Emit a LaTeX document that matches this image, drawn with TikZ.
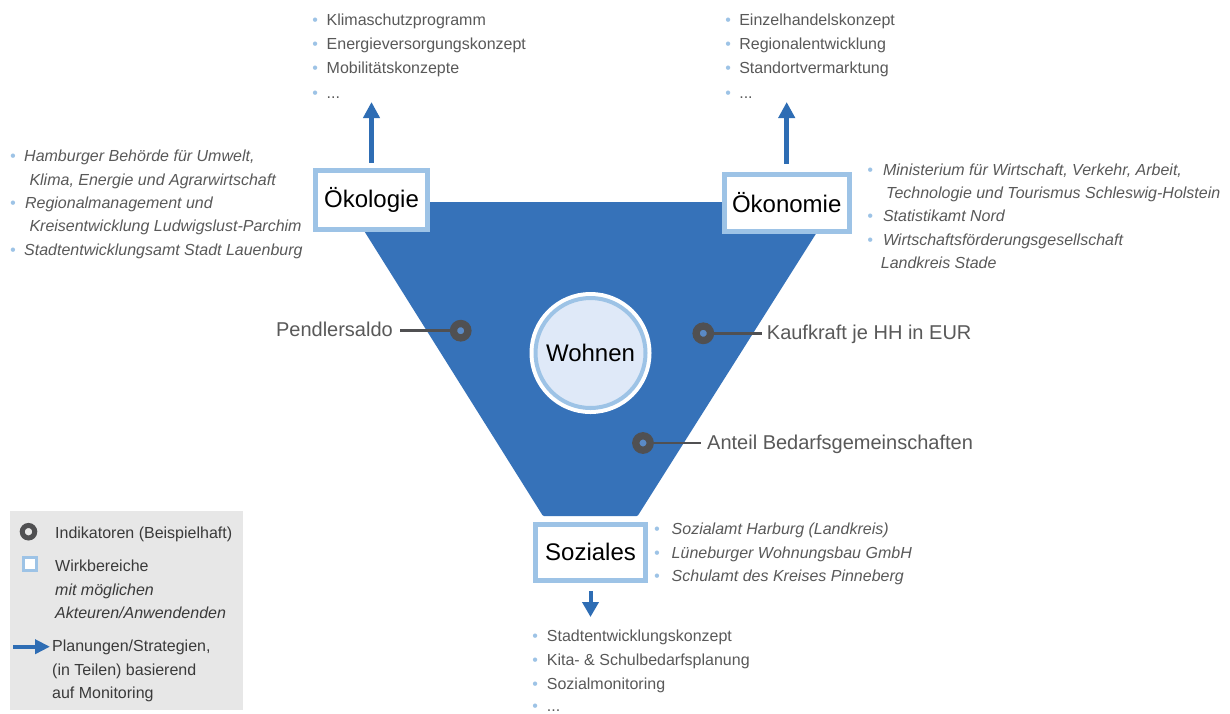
\documentclass[tikz,border=0pt]{standalone}
\usepackage{fontspec}
\setmainfont{Liberation Sans}
\usetikzlibrary{arrows.meta}
\definecolor{funnelc}{HTML}{3672B9}
\definecolor{arrowc}{HTML}{2E6DB4}
\definecolor{lightb}{HTML}{9DC3E6}
\definecolor{wfill}{HTML}{DFE9F8}
\definecolor{txt}{HTML}{595959}
\definecolor{legtxt}{HTML}{3A3A3A}
\definecolor{dotg}{HTML}{505052}
\definecolor{dotc}{HTML}{5A8AC6}
\definecolor{legbg}{HTML}{E7E7E7}
\definecolor{bulc}{HTML}{9DC3E6}
\newcommand\bu[1]{\textcolor{bulc}{•}\hspace{#1pt}}
\begin{document}
\begin{tikzpicture}[x=1pt,y=-1pt,
  wbox/.style={draw=lightb, line width=5pt, fill=white, inner sep=0pt,
    font=\fontsize{24}{28}\selectfont, text=black},
  plist/.style={anchor=north west, inner sep=0pt, align=left, text=txt,
    font=\fontsize{16}{24}\selectfont},
  actors/.style={anchor=north west, inner sep=0pt, align=left, text=txt,
    font=\fontsize{16}{23.4}\selectfont\itshape},
  legtext/.style={anchor=north west, inner sep=0pt, align=left, text=legtxt,
    font=\fontsize{16}{23.2}\selectfont},
  ind/.style={circle, draw=dotg, line width=7.3pt, fill=dotc, inner sep=0pt,
    minimum size=14.4pt},
  indlabel/.style={text=txt, font=\fontsize{20}{24}\selectfont, inner sep=0pt,
    text height=14pt, text depth=2pt},
  indline/.style={draw=dotg, line width=2.6pt},
  plan/.style={draw=arrowc, line width=4.5pt, -{Triangle[width=16pt,length=16pt]}},
]
\useasboundingbox (0,0) rectangle (1230,713);
\fill[white] (0,0) rectangle (1230,713);

% funnel
\fill[funnelc, rounded corners=1pt] (346,202) -- (836,202) -- (637.6,516) -- (543,516) -- cycle;

% central circle
\node[circle, fill=wfill, draw=lightb, line width=4pt, minimum size=110pt, inner sep=0pt,
  preaction={draw=white, line width=12pt},
  font=\fontsize{24}{28}\selectfont, text=black] (wohnen) at (590.5,353) {Wohnen};

% Wirkbereiche boxes
\node[wbox, minimum width=112pt, minimum height=59pt] (oekol) at (371.5,200) {Ökologie};
\node[wbox, minimum width=125pt, minimum height=57.3pt] (oekon) at (786.7,202.8) {Ökonomie};
\node[wbox, minimum width=110pt, minimum height=56.3pt] (soz) at (590.5,552.3) {Soziales};

% planning lists
\node[plist] (plA) at (312.2,8.2) {\strut\bu{8.7}Klimaschutzprogramm\\
  \bu{8.7}Energieversorgungskonzept\\
  \bu{8.7}Mobilitätskonzepte\\[1pt]
  \bu{8.7}...};
\node[plist] (plB) at (725.2,8.2) {\strut\bu{8.3}Einzelhandelskonzept\\
  \bu{8.3}Regionalentwicklung\\
  \bu{8.3}Standortvermarktung\\[1pt]
  \bu{8.3}...};
\node[plist] (plC) at (532.2,624.7) {\strut\bu{8.9}Stadtentwicklungskonzept\\
  \bu{8.9}Kita- \& Schulbedarfsplanung\\
  \bu{8.9}Sozialmonitoring\\[-2.5pt]
  \bu{8.9}...};

% arrows
\coordinate (tipA) at (371.5,102);
\coordinate (tipB) at (786.7,102);
\coordinate (tipC) at (590.5,617);
\draw[plan, shorten <=5.5pt] (oekol.north) -- (tipA);
\draw[plan, shorten <=8pt] (oekon.north) -- (tipB);
\draw[plan, line width=4pt, -{Triangle[width=16pt,length=15pt]}, shorten <=8.5pt] (soz.south) -- (tipC);

% actors
\node[actors] (acA) at (9.9,145.1) {\strut\bu{8.5}Hamburger Behörde für Umwelt,\\
  \hspace*{19.4pt}Klima, Energie und Agrarwirtschaft\\
  \bu{9.4}Regionalmanagement und\\
  \hspace*{19.4pt}Kreisentwicklung Ludwigslust-Parchim\\
  \bu{8.5}Stadtentwicklungsamt Stadt Lauenburg};
\node[actors] (acB) at (867.2,158.6) {\strut\bu{10}Ministerium für Wirtschaft, Verkehr, Arbeit,\\
  \hspace*{18.8pt}Technologie und Tourismus Schleswig-Holstein\\
  \bu{10}Statistikamt Nord\\
  \bu{10}Wirtschaftsförderungsgesellschaft\\
  \hspace*{13.5pt}Landkreis Stade};
\node[actors] (acC) at (653.9,518.1) {\strut\bu{12}Sozialamt Harburg (Landkreis)\\
  \bu{12}Lüneburger Wohnungsbau GmbH\\
  \bu{12}Schulamt des Kreises Pinneberg};

% indicators
\node[ind] (d1) at (460.7,330.7) {};
\node[ind] (d2) at (703.3,333.3) {};
\node[ind] (d3) at (643,443) {};
\node[indlabel, anchor=east] (t1) at (393,330.7) {Pendlersaldo};
\node[indlabel, anchor=west] (t2) at (766.7,333.3) {Kaufkraft je HH in EUR};
\node[indlabel, anchor=west] (t3) at (707,443) {Anteil Bedarfsgemeinschaften};
\draw[indline, shorten >=7pt] (d1) -- (t1);
\draw[indline, shorten >=5pt] (d2) -- (t2);
\draw[indline, shorten >=6pt] (d3) -- (t3);

% legend
\fill[legbg] (10,510.7) rectangle (243,710);
\node[ind, line width=5pt, minimum size=12.5pt, fill=legbg] (lgring) at (28.5,531.7) {};
\node[draw=lightb, line width=3pt, fill=white, inner sep=0pt, minimum size=13pt] (lgsq) at (30,563.5) {};
\node[legtext] (lg1) at (55,521.6) {\strut Indikatoren (Beispielhaft)};
\node[legtext] (lg2) at (55,555.5) {\strut Wirkbereiche\\ \textit{mit möglichen}\\ \textit{Akteuren/Anwendenden}};
\node[legtext] (lg3) at (52,635.5) {\strut Planungen/Strategien,\\ (in Teilen) basierend\\ auf Monitoring};
\coordinate (lgA) at (13,646.7);
\coordinate (lgB) at (50,646.7);
\draw[plan, line width=4pt, -{Triangle[width=14pt,length=15pt]}] (lgA) -- (lgB);
\end{tikzpicture}
\end{document}
